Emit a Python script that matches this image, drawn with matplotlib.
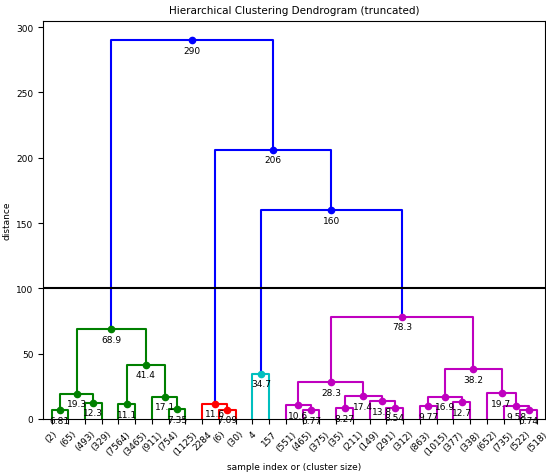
import matplotlib
matplotlib.use("Agg")
import matplotlib.pyplot as plt

# ---- data ----
leaf_labels = ["(2)", "(65)", "(493)", "(329)", "(7564)", "(3465)", "(911)", "(754)",
               "(1125)", "2284", "(6)", "(30)", "4", "157", "(551)", "(465)", "(375)",
               "(35)", "(211)", "(149)", "(291)", "(312)", "(863)", "(1015)", "(377)",
               "(338)", "(652)", "(735)", "(522)", "(518)"]
# merges: new cluster id = 30 + row index
merge_left = [0, 2, 30, 4, 7, 6, 33, 32, 10, 9, 12, 15, 14, 17, 20, 19, 43, 42,
              22, 24, 48, 28, 27, 26, 50, 47, 40, 39, 37]
merge_right = [1, 3, 31, 5, 8, 34, 35, 36, 11, 38, 13, 16, 41, 18, 21, 44, 45, 46,
               23, 25, 49, 29, 51, 52, 53, 54, 55, 56, 57]
merge_height = [6.81, 12.3, 19.3, 11.1, 7.35, 17.1, 41.4, 68.9, 7.09, 11.6, 34.7,
                6.77, 10.6, 8.27, 8.54, 13.8, 17.4, 28.3, 9.77, 12.7, 16.9, 6.74,
                9.58, 19.7, 38.2, 78.3, 160, 206, 290]
max_d = 100

# ---- styles ----
palette = ["g", "r", "c", "m", "y", "k"]
above_color = "b"

fig = plt.figure(figsize=(5.46, 4.77), dpi=100)
ax = fig.add_axes([0.079, 0.1195, 0.92, 0.834])

n = len(leaf_labels)
pos = {i: 10 * i + 5 for i in range(n)}
hgt = {i: 0.0 for i in range(n)}
for k, (a, b, h) in enumerate(zip(merge_left, merge_right, merge_height)):
    cid = n + k
    pos[cid] = 0.5 * (pos[a] + pos[b])
    hgt[cid] = h

# colour assignment (scipy style)
colors = {}
counter = [0]
def assign(node, col):
    if node < n:
        return
    k = node - n
    h = merge_height[k]
    if col is None and h < max_d:
        col = palette[counter[0] % len(palette)]
        counter[0] += 1
    colors[node] = col if col is not None else above_color
    assign(merge_left[k], col)
    assign(merge_right[k], col)

root = n + len(merge_height) - 1
assign(root, None)

for k, (a, b, h) in enumerate(zip(merge_left, merge_right, merge_height)):
    cid = n + k
    c = colors[cid]
    xs = [pos[a], pos[a], pos[b], pos[b]]
    ys = [hgt[a], h, h, hgt[b]]
    ax.plot(xs, ys, color=c, lw=1.5)

for k, (a, b, h) in enumerate(zip(merge_left, merge_right, merge_height)):
    cid = n + k
    c = colors[cid]
    ax.plot(pos[cid], h, "o", color=c, ms=4.5)
    ax.annotate("%.3g" % h, (pos[cid], h), xytext=(0, -4),
                textcoords="offset points", va="top", ha="center", fontsize=6.5)

ax.axhline(y=max_d, c="k", lw=1.5)

ax.set_xlim(0, 10 * n)
ax.set_ylim(0, max(merge_height) * 1.05)
ax.set_xticks([10 * i + 5 for i in range(n)])
ax.set_xticklabels(leaf_labels, rotation=45, fontsize=6.5)
ax.tick_params(axis="y", labelsize=6.5)
ax.set_title("Hierarchical Clustering Dendrogram (truncated)", fontsize=7.5)
ax.set_xlabel("sample index or (cluster size)", fontsize=6.5)
ax.set_ylabel("distance", fontsize=6.5, labelpad=3)

fig.savefig("out.png", dpi=100)
